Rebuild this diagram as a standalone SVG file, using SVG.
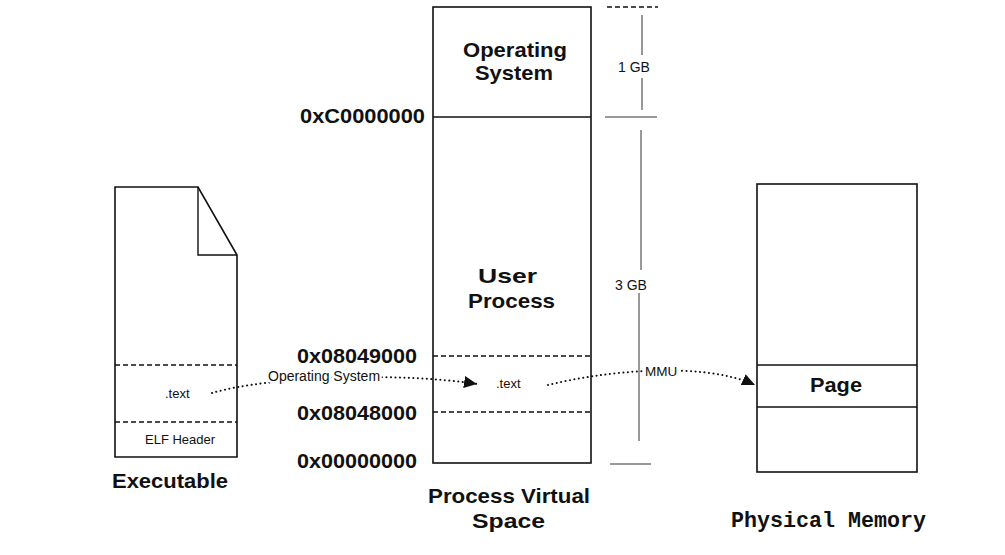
<svg xmlns="http://www.w3.org/2000/svg" width="1005" height="555" viewBox="0 0 1005 555">
<style>
.box{fill:#fff;stroke:#111;stroke-width:1.6}
.ln{stroke:#111;stroke-width:1.4;fill:none}
.dash{stroke:#111;stroke-width:1.3;stroke-dasharray:5 3;fill:none}
.thin{stroke:#333;stroke-width:1;fill:none}
.big{font-family:"Liberation Sans",Arial,sans-serif;font-weight:bold;font-size:20.5px;fill:#111}
.addr{font-family:"Liberation Sans",Arial,sans-serif;font-weight:bold;font-size:20px;fill:#111}
.sm{font-family:"Liberation Sans",Arial,sans-serif;font-size:13.5px;fill:#111}
.mono{font-family:"Liberation Mono","Courier New",monospace;font-weight:bold;font-size:21.5px;fill:#111}
.dot{stroke:#111;stroke-width:2;stroke-dasharray:0.1 4.4;stroke-linecap:round;fill:none}
.halo{paint-order:stroke;stroke:#fff;stroke-width:5px;stroke-linejoin:round}
</style>
<defs>
<marker id="arr" markerWidth="14" markerHeight="12" refX="13" refY="6" orient="auto" markerUnits="userSpaceOnUse">
<path d="M0,0 L13,6 L0,12 Z" fill="#111"/>
</marker>
</defs>
<rect width="1005" height="555" fill="#fff"/>

<g id="executable">
<path class="box" d="M115,187 L198,187 L237,255 L237,457 L115,457 Z"/>
<path class="ln" d="M198,187 L198,255 L237,255"/>
<line class="dash" x1="115" y1="365" x2="237" y2="365"/>
<line class="dash" x1="115" y1="422" x2="237" y2="422"/>
<text class="sm" x="165" y="398" style="font-size:13px">.text</text>
<text class="sm" x="145" y="444" style="font-size:13px">ELF Header</text>
<text class="big" x="112" y="488" textLength="116" lengthAdjust="spacingAndGlyphs">Executable</text>
</g>

<g id="process-virtual-space">
<rect class="box" x="433" y="7" width="158" height="456"/>
<line class="ln" x1="433" y1="117" x2="591" y2="117"/>
<line class="dash" x1="433" y1="356" x2="591" y2="356"/>
<line class="dash" x1="433" y1="412" x2="591" y2="412"/>
<text class="big" x="463" y="57" textLength="104" lengthAdjust="spacingAndGlyphs">Operating</text>
<text class="big" x="475" y="80" textLength="78" lengthAdjust="spacingAndGlyphs">System</text>
<text class="big" x="478" y="283" textLength="59" lengthAdjust="spacingAndGlyphs">User</text>
<text class="big" x="468" y="308" textLength="87" lengthAdjust="spacingAndGlyphs">Process</text>
<text class="sm" x="496" y="388" style="font-size:13px">.text</text>
<text class="addr" x="300" y="123" textLength="125" lengthAdjust="spacingAndGlyphs">0xC0000000</text>
<text class="addr" x="297" y="363" textLength="120" lengthAdjust="spacingAndGlyphs">0x08049000</text>
<text class="addr" x="297" y="420" textLength="120" lengthAdjust="spacingAndGlyphs">0x08048000</text>
<text class="addr" x="297" y="468" textLength="120" lengthAdjust="spacingAndGlyphs">0x00000000</text>
<text class="big" x="428" y="503" textLength="162" lengthAdjust="spacingAndGlyphs">Process Virtual</text>
<text class="big" x="472" y="528" textLength="73" lengthAdjust="spacingAndGlyphs">Space</text>
</g>

<g id="scale">
<line class="dash" x1="607" y1="7" x2="658" y2="7"/>
<line class="thin" x1="642" y1="15" x2="642" y2="55"/>
<text class="sm" x="618" y="72" style="font-size:14px">1 GB</text>
<line class="thin" x1="642" y1="78" x2="642" y2="110"/>
<line class="thin" x1="605" y1="117" x2="657" y2="117"/>
<line class="thin" x1="641" y1="130" x2="641" y2="270"/>
<text class="sm" x="615" y="290" style="font-size:14px">3 GB</text>
<line class="thin" x1="639" y1="293" x2="639" y2="441"/>
<line class="thin" x1="610" y1="464" x2="651" y2="464"/>
</g>

<g id="physical-memory">
<rect class="box" x="757" y="184" width="160" height="288"/>
<line class="ln" x1="757" y1="365" x2="917" y2="365"/>
<line class="ln" x1="757" y1="407" x2="917" y2="407"/>
<text class="big" x="810" y="392" textLength="52" lengthAdjust="spacingAndGlyphs">Page</text>
<text class="mono" x="731" y="527" textLength="195" lengthAdjust="spacingAndGlyphs">Physical Memory</text>
</g>

<g id="connectors">
<path class="dot" d="M212,393 C270,376 400,372 477,384" marker-end="url(#arr)"/>
<text class="sm halo" x="268" y="381" style="font-size:14px">Operating System</text>
<path class="dot" d="M548,385 C600,372 700,360 755,385" marker-end="url(#arr)"/>
<text class="sm halo" x="645" y="376" style="font-size:13.5px">MMU</text>
</g>
</svg>
